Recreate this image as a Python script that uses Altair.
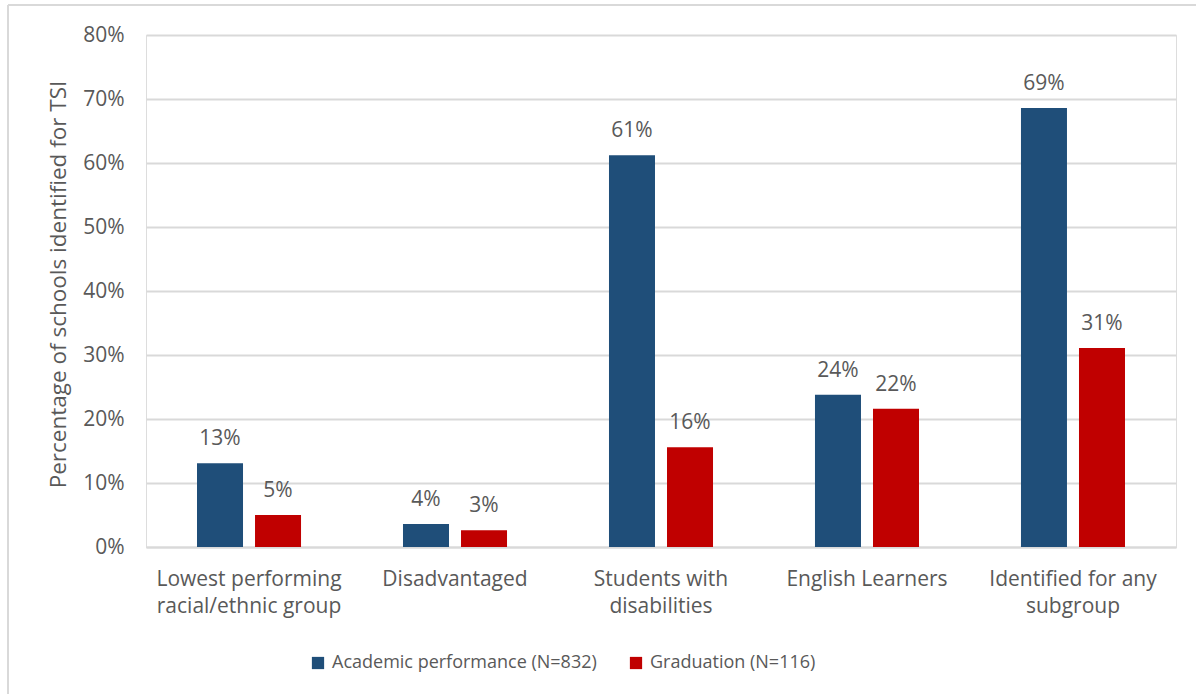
import altair as alt
import pandas as pd

categories = [
    "Lowest performing|racial/ethnic group",
    "Disadvantaged",
    "Students with|disabilities",
    "English Learners",
    "Identified for any|subgroup",
]
series = ["Academic performance (N=832)", "Graduation (N=116)"]
academic = [13.1, 3.6, 61.2, 23.8, 68.6]
graduation = [5.0, 2.6, 15.6, 21.6, 31.1]
y_ticks = [0, 10, 20, 30, 40, 50, 60, 70, 80]
colors = ["#1F4E79", "#C00000"]

rows = []
for i, c in enumerate(categories):
    rows.append({"cat": c, "series": series[0], "value": academic[i] / 100})
    rows.append({"cat": c, "series": series[1], "value": graduation[i] / 100})
df = pd.DataFrame(rows)

FONT = "Open Sans"
GRAY = "#595959"
FS = 21

x = alt.X(
    "cat:N",
    sort=categories,
    scale=alt.Scale(paddingInner=0.495, paddingOuter=0.2476),
    axis=alt.Axis(
        title=None,
        labelExpr="split(datum.label, '|')",
        labelFontSize=FS,
        labelFont=FONT,
        labelColor=GRAY,
        labelLineHeight=27,
        labelPadding=38,
        labelAngle=0,
        labelLimit=0,
        ticks=False,
        domain=True,
        domainColor="#D9D9D9",
        domainWidth=2,
        labelBaseline="alphabetic",
    ),
)
y = alt.Y(
    "value:Q",
    scale=alt.Scale(domain=[0, 0.8]),
    axis=alt.Axis(
        values=[t / 100 for t in y_ticks],
        format=".0%",
        title="Percentage of schools identified for TSI",
        titleFont=FONT,
        titleFontSize=22.5,
        titleFontWeight="normal",
        titleColor=GRAY,
        titlePadding=12,
        titleY=249,
        labelFont=FONT,
        labelFontSize=FS,
        labelColor=GRAY,
        labelPadding=22,
        ticks=False,
        domain=False,
        grid=True,
        gridColor="#D9D9D9",
        gridWidth=2,
    ),
)
xoff = alt.XOffset(
    "series:N", sort=series, scale=alt.Scale(paddingInner=0.207, paddingOuter=0)
)

bars = alt.Chart(df).mark_bar().encode(
    x=x,
    y=y,
    xOffset=xoff,
    color=alt.Color(
        "series:N",
        sort=series,
        scale=alt.Scale(domain=series, range=colors),
        legend=alt.Legend(
            title=None,
            orient="none",
            legendX=163,
            legendY=619,
            direction="horizontal",
            symbolType="square",
            symbolSize=150,
            symbolStrokeWidth=0,
            labelFont=FONT,
            labelFontSize=18,
            labelColor=GRAY,
            labelLimit=0,
            columnPadding=30,
            labelOffset=5,
        ),
    ),
)

labels = alt.Chart(df).mark_text(
    baseline="alphabetic", dy=-18, font=FONT, fontSize=FS, color=GRAY
).encode(
    x=alt.X("cat:N", sort=categories),
    y="value:Q",
    xOffset=alt.XOffset("series:N", sort=series),
    text=alt.Text("value:Q", format=".0%"),
)

frame_left = alt.Chart(df).mark_rule(color="#D9D9D9", strokeWidth=2).encode(
    x=alt.value(-138), y=alt.value(-30), y2=alt.value(700)
)
frame_top = alt.Chart(df).mark_rule(color="#D9D9D9", strokeWidth=2).encode(
    x=alt.value(-138), x2=alt.value(1100), y=alt.value(-30)
)

chart = (
    alt.layer(frame_left, frame_top, bars, labels)
    .properties(
        width=1030,
        height=512,
        autosize=alt.AutoSizeParams(type="none"),
        padding={"left": 146, "top": 35, "right": 20, "bottom": 147},
    )
    .configure_view(stroke=None)
    .configure(background="white")
)

chart.save("out.html", embed_options={"renderer": "svg", "actions": False})
